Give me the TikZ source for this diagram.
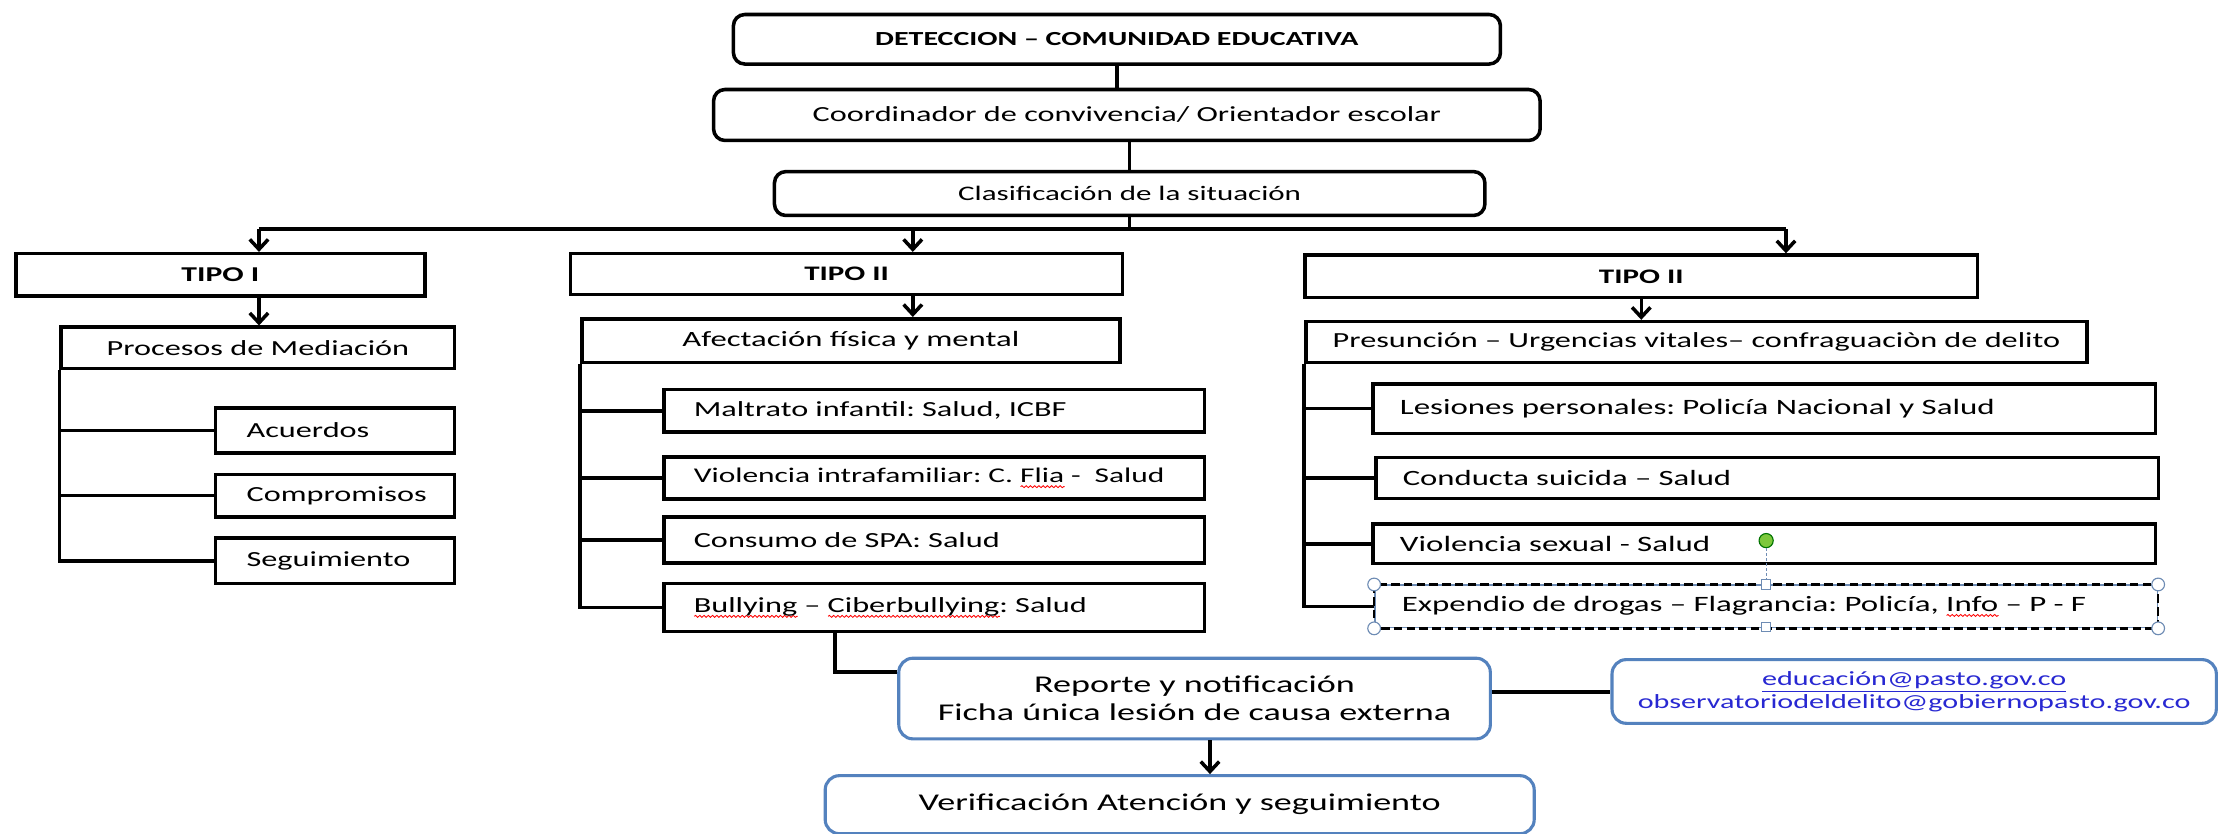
\documentclass[tikz,border=0pt]{standalone}
\usepackage{fontspec}
\setmainfont{Carlito}[FakeStretch=1.5]
\usetikzlibrary{arrows.meta,decorations.pathmorphing}
\definecolor{bluec}{RGB}{84,130,190}
\definecolor{mailc}{RGB}{40,40,210}
\definecolor{handc}{RGB}{110,140,180}
\definecolor{greenc}{RGB}{125,200,60}
\frenchspacing
\newsavebox\sqbox
\newcommand\sqg[1]{\sbox\sqbox{#1}\rlap{\raisebox{-4pt}{\tikz[x=1pt,y=1pt]\draw[red,line width=0.6pt,decorate,decoration={snake,amplitude=0.7pt,segment length=3pt}] (0,0) -- (\wd\sqbox,0);}}\usebox\sqbox}
\newcommand\fsz[1]{\fontsize{#1pt}{#1pt}\selectfont}
\begin{document}
\begin{tikzpicture}[x=1pt,y=-1pt,
  ln/.style={line width=2.5pt},
  arr/.style={line width=2.5pt,-{Straight Barb[length=7pt,width=13pt]}},
  sz/.style 2 args={minimum width=#1pt, minimum height=#2pt},
  bx/.style={draw, line width=2.5pt, fill=white, inner sep=0pt, anchor=north west, font=\fsz{15.2}},
  rbx/.style={bx, rounded corners=8pt},
  lbx/.style 2 args={bx, text width=#1pt, inner xsep=#2pt, align=left},
  bbx/.style={bx, draw=bluec, line width=2.2pt, rounded corners=10pt, align=center, font=\fontsize{17pt}{20pt}\selectfont},
  bold/.style={font=\bfseries\fsz{#1}},
  hcirc/.style={circle, draw=handc, fill=white, line width=0.8pt, minimum size=9pt, inner sep=0pt},
  hsq/.style={rectangle, draw=handc, fill=white, line width=0.8pt, minimum size=6.5pt, inner sep=0pt}
]
\useasboundingbox (0,0) rectangle (1568,589);
\fill[white] (0,0) rectangle (1568,589);

% top chain
\node[rbx, sz={542}{35}, bold=14.1] (det) at (517,9) {DETECCION – COMUNIDAD EDUCATIVA};
\node[rbx, sz={584}{36}] (coo) at (503,62) {Coordinador de convivencia/ Orientador escolar};
\node[rbx, sz={502}{31}, font=\fsz{14.6}] (cla) at (546,120) {Clasificación de la situación};

% tipo boxes
\node[bx, sz={289}{30}, bold=14.9] (t1) at (10,178) {TIPO I};
\node[bx, sz={390}{29}, bold=14.6] (t2) at (402,178) {TIPO II};
\node[bx, sz={475}{30}, bold=14.6] (t3) at (921,179) {TIPO II};

% tipo I branch
\node[bx, sz={278}{29}] (pro) at (42,230) {Procesos de Mediación};
\node[lbx={125}{22}, sz={169}{32}] (acu) at (151,287) {Acuerdos};
\node[lbx={125}{22}, sz={169}{30}] (com) at (151,334) {Compromisos};
\node[lbx={125}{22}, sz={169}{32}] (seg) at (151,379) {Seguimiento};

% tipo II middle branch
\node[bx, sz={380}{31}, font=\fsz{15.4}] (afe) at (410,224) {Afectación física y mental};
\node[lbx={340}{21}, sz={382}{30}] (mal) at (468,274) {Maltrato infantil: Salud, ICBF};
\node[lbx={340}{21}, sz={382}{30}, font=\fsz{14.8}] (vif) at (468,321.5) {Violencia intrafamiliar: C. \sqg{Flia} -\ \ Salud};
\node[lbx={340}{21}, sz={382}{32.5}] (spa) at (468,364) {Consumo de SPA: Salud};
\node[lbx={340}{21}, sz={382}{34}] (bul) at (468,411) {\sqg{Bullying} – \sqg{Ciberbullying}: Salud};

% tipo II right branch
\node[bx, sz={552}{29}] (pre) at (921.5,226) {Presunción – Urgencias vitales– confraguaciòn de delito};
\node[lbx={515}{19}, sz={553}{35}, font=\fsz{15.5}] (les) at (969,270) {Lesiones personales: Policía Nacional y Salud};
\node[lbx={515}{19}, sz={553}{29}, font=\fsz{15.4}] (con) at (971,322) {Conducta suicida – Salud};
\node[lbx={515}{19}, sz={553}{28}, font=\fsz{15.5}] (vse) at (969,369) {Violencia sexual - Salud};
\node[lbx={515}{19}, sz={553}{30}, font=\fsz{15.5}, draw=handc, line width=1pt] (exp) at (971,413) {Expendio de drogas – Flagrancia: Policía, \sqg{Info} – P - F};
\draw[line width=1.8pt, dash pattern=on 6pt off 3pt] (exp.north west) rectangle (exp.south east);

% blue boxes
\node[bbx, sz={418}{57}] (rep) at (634,464) {Reporte y notificación\\Ficha única lesión de causa externa};
\node[bbx, sz={501}{41}] (ver) at (582,547) {Verificación Atención y seguimiento};
\node[bbx, sz={427}{45}, font=\fontsize{14.2pt}{16pt}\selectfont, text=mailc] (mail) at (1138,465) {\underline{educación@pasto.gov.co}\\observatoriodeldelito@gobiernopasto.gov.co};

% connectors top
\draw[ln] (det.south) -- (det.south |- coo.north);
\draw[ln] (cla.north |- coo.south) -- (cla.north);
\coordinate (bL) at (183,162);
\coordinate (bM) at (645,162);
\coordinate (bR) at (1262,162);
\draw[ln] (cla.south) -- (cla.south |- bL);
\draw[ln] (bL) -- (bR);
\draw[arr] (bL) -- (bL |- t1.north);
\draw[arr] (bM) -- (bM |- t2.north);
\draw[arr] (bR) -- (bR |- t3.north);
\draw[arr] (bL |- t1.south) -- (bL |- pro.north);
\draw[arr] (bM |- t2.south) -- (bM |- afe.north);
\draw[arr] (t3.south) -- (t3.south |- pre.north);

% branch bars
\draw[ln] (pro.south west) -- (pro.south west |- seg.west) -- (seg.west);
\draw[ln] (pro.south west |- acu.west) -- (acu.west);
\draw[ln] (pro.south west |- com.west) -- (com.west);

\draw[ln] (afe.south west) -- (afe.south west |- bul.west) -- (bul.west);
\draw[ln] (afe.south west |- mal.west) -- (mal.west);
\draw[ln] (afe.south west |- vif.west) -- (vif.west);
\draw[ln] (afe.south west |- spa.west) -- (spa.west);

\draw[ln] (pre.south west) -- (pre.south west |- exp.west) -- (exp.west);
\draw[ln] (pre.south west |- les.west) -- (les.west);
\draw[ln] (pre.south west |- con.west) -- (con.west);
\draw[ln] (pre.south west |- vse.west) -- (vse.west);

% bottom connectors
\coordinate (bj) at (590,475);
\draw[ln] (bul.south -| bj) -- (bj) -- (bj -| rep.west);
\coordinate (mj) at (1095,489);
\draw[ln] (mj -| rep.east) -- (mj -| mail.west);
\coordinate (vj) at (855,530);
\draw[arr] (vj |- rep.south) -- (vj |- ver.north);

% selection handles
\node[hcirc] (h1) at (exp.north west) {};
\node[hcirc] (h2) at (exp.north east) {};
\node[hcirc] (h3) at (exp.south west) {};
\node[hcirc] (h4) at (exp.south east) {};
\node[hsq] (hn) at (1248,413) {};
\node[hsq] (hs) at (1248,443) {};
\node[circle, draw=green!45!black, fill=greenc, line width=0.8pt, minimum size=10pt, inner sep=0pt] (rot) at (1248,382) {};
\draw[handc, line width=0.8pt, dash pattern=on 2pt off 1.5pt] (rot.south) -- (hn.north);
\end{tikzpicture}
\end{document}
